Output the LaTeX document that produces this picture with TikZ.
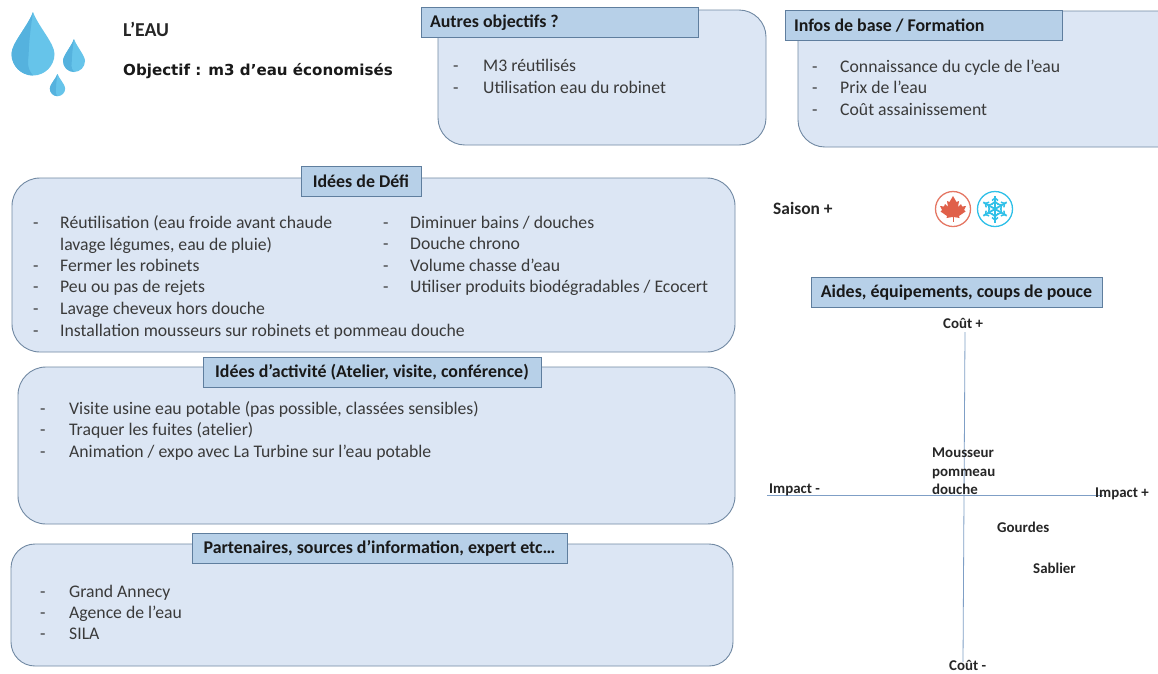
\documentclass[tikz,border=0pt]{standalone}
\usepackage{fontspec}
\setmainfont{Carlito}
\newfontfamily\dejabold{DejaVu Sans}
\definecolor{boxfill}{HTML}{DCE6F4}
\definecolor{boxline}{HTML}{7189A3}
\definecolor{headfill}{HTML}{B7D0E8}
\definecolor{headline}{HTML}{5F7E9E}
\definecolor{bodytext}{HTML}{3A3A3A}
\definecolor{axisline}{HTML}{7F9FC6}
\definecolor{dropa}{HTML}{66C4EA}
\definecolor{dropb}{HTML}{55B2DE}
\definecolor{leafc}{HTML}{E0604A}
\definecolor{snowc}{HTML}{2FC0E8}
\tikzset{
  panel/.style={draw=boxline,fill=boxfill,line width=0.9pt},
  headbox/.style={draw=headline,fill=headfill,line width=0.8pt,minimum height=30pt,inner sep=0pt,font=\fontsize{17.9}{20}\selectfont\bfseries,text=black!90,anchor=center},
  body/.style={anchor=base west,inner sep=0pt,yshift=-1pt,font=\fontsize{17.7}{20}\selectfont,text=bodytext},
  lab/.style={anchor=base west,inner sep=0pt,yshift=-1pt,font=\fontsize{14.9}{17}\selectfont\bfseries,text=black!85}
}
\newcommand{\dropshape}[4]{% tip x, tip y, centre y, r
  \fill[dropa] (#1,#2) .. controls (#1+0.25*#4,#2+0.35*#3-0.35*#2) and (#1+#4,#3-0.5*#4) .. (#1+#4,#3)
    .. controls (#1+#4,#3+0.55*#4) and (#1+0.55*#4,#3+#4) .. (#1,#3+#4)
    .. controls (#1-0.55*#4,#3+#4) and (#1-#4,#3+0.55*#4) .. (#1-#4,#3)
    .. controls (#1-#4,#3-0.5*#4) and (#1-0.25*#4,#2+0.35*#3-0.35*#2) .. (#1,#2) -- cycle;
  \fill[dropb] (#1,#2)
    .. controls (#1-0.25*#4,#2+0.35*#3-0.35*#2) and (#1-#4,#3-0.5*#4) .. (#1-#4,#3)
    .. controls (#1-#4,#3+0.55*#4) and (#1-0.55*#4,#3+#4) .. (#1,#3+#4)
    .. controls (#1-0.35*#4,#3+0.6*#4) and (#1-0.2*#4,#3+0.2*#4) .. (#1-0.2*#4,#3)
    .. controls (#1-0.2*#4,#3-0.5*#4) and (#1-0.1*#4,#2+0.35*#3-0.35*#2) .. (#1,#2) -- cycle;
}
\begin{document}
\begin{tikzpicture}[x=1pt,y=-1pt]
\useasboundingbox (0,0) rectangle (1158,673);
\fill[white] (0,0) rectangle (1158,673);

% drops
\dropshape{33}{12}{54}{21.5}
\dropshape{74}{39}{61}{11}
\dropshape{57.5}{74}{88.5}{7.7}

\node[anchor=base west,inner sep=0pt,font=\fontsize{19.7}{22}\selectfont\bfseries,text=black!85] (title) at (123,36) {L’EAU};
\node[anchor=base west,inner sep=0pt,font=\fontsize{15.1}{17}\dejabold\bfseries,text=black!90] (goal) at (123,75) {Objectif : m3 d’eau économisés};

% top panels
\draw[panel,rounded corners=27pt] (438,10) rectangle (766,145);
\node[headbox,minimum width=277pt,text width=259pt,align=flush left] (hautres) at (559.5,22.5) {Autres objectifs ?};
\node[body] (d1) at (453,70) {-};
\node[body] (a1) at (483,70) {M3 réutilisés};
\node[body] (d2) at (453,92) {-};
\node[body] (a2) at (483,92) {Utilisation eau du robinet};

\draw[panel,rounded corners=27pt] (798,11) -- (798,147) -- (1185,147) -- (1185,11) -- cycle;
\node[headbox,minimum width=277pt,text width=259pt,align=flush left] (hinfos) at (923.5,25.5) {Infos de base / Formation};
\node[body] (d3) at (812,71) {-};
\node[body] (b1) at (840,71) {Connaissance du cycle de l’eau};
\node[body] (d4) at (812,92) {-};
\node[body] (b2) at (840,92) {Prix de l’eau};
\node[body] (d5) at (812,114) {-};
\node[body] (b3) at (840,114) {Coût assainissement};

% defi panel
\draw[panel,rounded corners=28pt] (12,178) rectangle (735,352);
\node[headbox,minimum width=120pt] (hdefi) at (361,181.5) {Idées de Défi};
\foreach \n/\y in {1/227,2/270,3/291,4/313,5/335}{\node[body] (ed\n) at (33,\y) {-};}
\node[body] (c1) at (60,227) {Réutilisation (eau froide avant chaude};
\node[body] (c2) at (60,249) {lavage légumes, eau de pluie)};
\node[body] (c3) at (60,270) {Fermer les robinets};
\node[body] (c4) at (60,291) {Peu ou pas de rejets};
\node[body] (c5) at (60,313) {Lavage cheveux hors douche};
\node[body] (c6) at (60,335) {Installation mousseurs sur robinets et pommeau douche};
\foreach \n/\y in {1/227,2/248,3/270,4/291}{\node[body] (fd\n) at (383,\y) {-};}
\node[body] (e1) at (410,227) {Diminuer bains / douches};
\node[body] (e2) at (410,248) {Douche chrono};
\node[body] (e3) at (410,270) {Volume chasse d’eau};
\node[body] (e4) at (410,291) {Utiliser produits biodégradables / Ecocert};

% activite panel
\draw[panel,rounded corners=28pt] (18,367) rectangle (735,524);
\node[headbox,minimum width=338pt] (hact) at (372,372.5) {Idées d’activité (Atelier, visite, conférence)};
\foreach \n/\y in {1/413,2/434,3/456}{\node[body] (gd\n) at (40,\y) {-};}
\node[body] (g1) at (69,413) {Visite usine eau potable (pas possible, classées sensibles)};
\node[body] (g2) at (69,434) {Traquer les fuites (atelier)};
\node[body] (g3) at (69,456) {Animation / expo avec La Turbine sur l’eau potable};

% partenaires panel
\draw[panel,rounded corners=24pt] (11,544) rectangle (733,666);
\node[headbox,minimum width=375pt] (hpart) at (379.5,548.5) {Partenaires, sources d’information, expert etc…};
\foreach \n/\y in {1/596,2/617,3/638}{\node[body] (pd\n) at (40,\y) {-};}
\node[body] (p1) at (69,596) {Grand Annecy};
\node[body] (p2) at (69,617) {Agence de l’eau};
\node[body] (p3) at (69,638) {SILA};

% saison
\node[anchor=base west,inner sep=0pt,font=\fontsize{17.4}{19}\selectfont\bfseries,text=black!85] (saison) at (773,214) {Saison +};
\node[circle,draw=leafc!85!white,line width=1.3pt,minimum size=35pt,inner sep=0pt] (autumn) at (953,209) {};
\node[circle,draw=snowc,line width=1.3pt,minimum size=35pt,inner sep=0pt] (winter) at (995,209) {};
\begin{scope}[shift={(953,209)}]
  \fill[leafc] (0,-13) -- (3.5,-7) -- (6,-8) -- (5,-2) -- (8,-5) -- (9,-2.5) -- (13,-3) -- (11,1) -- (12.5,2.5) -- (6,7) -- (6.5,9) -- (0.7,8) -- (-0.7,8) -- (-6.5,9) -- (-6,7) -- (-12.5,2.5) -- (-11,1) -- (-13,-3) -- (-9,-2.5) -- (-8,-5) -- (-5,-2) -- (-6,-8) -- (-3.5,-7) -- cycle;
  \draw[leafc,line width=0.8pt] (0,7) -- (0,13);
\end{scope}
\begin{scope}[shift={(995,209)}]
  \foreach \a in {30,90,150,210,270,330}{
    \begin{scope}[rotate=\a]
      \draw[snowc,line width=1.8pt] (0,0) -- (13.5,0);
      \draw[snowc,line width=1.5pt] (4.5,-3.5) -- (7.5,0) -- (4.5,3.5);
      \draw[snowc,line width=1.5pt] (8.5,-3) -- (11,0) -- (8.5,3);
    \end{scope}}
\end{scope}

% matrix
\node[headbox,minimum width=291pt,text depth=3.5pt,text height=13pt,yshift=-0.5pt] (haides) at (956.5,292) {Aides, équipements, coups de pouce};
\coordinate (vtop) at (965,332);
\coordinate (vbot) at (963,662);
\coordinate (hleft) at (767,495);
\coordinate (hright) at (1103,495);
\draw[draw=axisline,line width=0.8pt] (vtop) -- (vbot);
\draw[draw=axisline,line width=0.8pt] (hleft) -- (hright);
\node[lab] (ctop) at (943,327) {Coût +};
\node[lab] (cbot) at (949,669.5) {Coût -};
\node[lab] (il) at (769,492) {Impact -};
\node[lab] (ir) at (1095,496) {Impact +};
\node[lab] (m1) at (932,456) {Mousseur};
\node[lab] (m2) at (932,475) {pommeau};
\node[lab] (m3) at (932,493) {douche};
\node[lab] (go) at (997,531) {Gourdes};
\node[lab] (sa) at (1033,572) {Sablier};
\end{tikzpicture}
\end{document}
